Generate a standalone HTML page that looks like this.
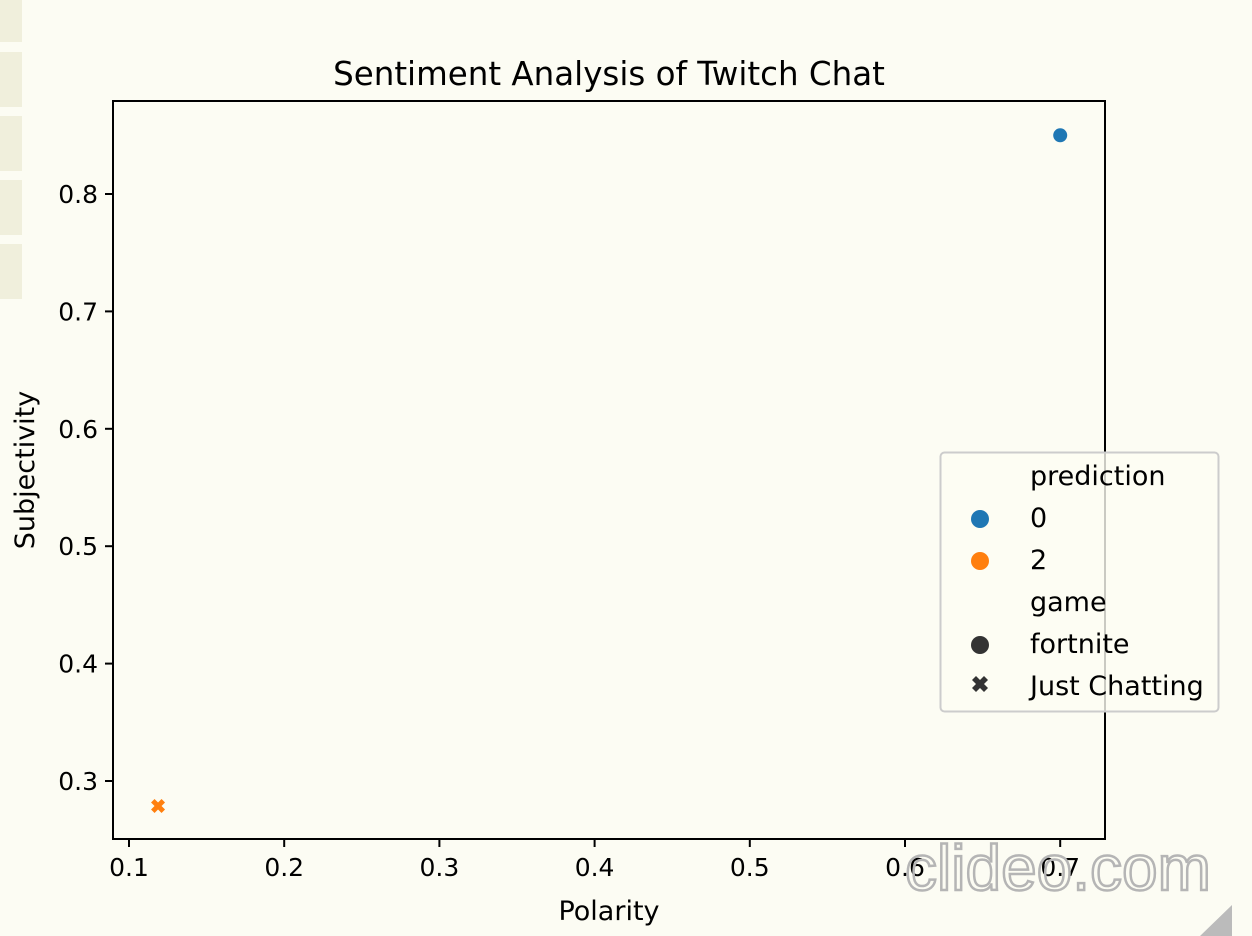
<!DOCTYPE html>
<html><head><meta charset="utf-8"><style>
body{margin:0;background:#fcfcf3;}
svg{display:block;font-family:"DejaVu Sans","Liberation Sans",sans-serif;}
</style></head><body>
<svg id="chart" width="1252" height="936" viewBox="0 0 1252 936">
<rect x="0" y="0" width="1252" height="936" fill="#fcfcf3"/>
<g fill="#f0efdc">
<rect x="0" y="0" width="22" height="42"/><rect x="0" y="52" width="22" height="55"/><rect x="0" y="116" width="22" height="55"/><rect x="0" y="180" width="22" height="55"/><rect x="0" y="244" width="22" height="55"/>
</g>
<text x="609" y="85" font-size="32.5" text-anchor="middle" fill="#000">Sentiment Analysis of Twitch Chat</text>
<g id="xticks"></g>
<g id="yticks"></g>
<text x="609" y="920" font-size="27" text-anchor="middle">Polarity</text>
<text transform="translate(34,470) rotate(-90)" font-size="27" text-anchor="middle">Subjectivity</text>
<g id="marks"></g>
<rect x="113" y="101" width="992" height="738" fill="none" stroke="#000" stroke-width="2"/>
<g>
<rect x="940.5" y="452.5" width="278" height="259" rx="4" fill="#fcfcf3" fill-opacity="0.8" stroke="#ccc" stroke-width="2"/>
<g font-size="27" fill="#000">
<text x="1030" y="485">prediction</text>
<circle cx="980" cy="519" r="9" fill="#1f77b4"/>
<text x="1030" y="527">0</text>
<circle cx="980" cy="561" r="9" fill="#ff7f0e"/>
<text x="1030" y="569">2</text>
<text x="1030" y="611">game</text>
<circle cx="980" cy="645" r="9" fill="#333"/>
<text x="1030" y="653">fortnite</text>
<path d="M972,680 L976,676 L980,680 L984,676 L988,680 L984,684 L988,688 L984,692 L980,688 L976,692 L972,688 L976,684 Z" fill="#333"/>
<text x="1030" y="695">Just Chatting</text>
</g></g>
<text x="1058" y="890" font-size="64" font-family="'Liberation Sans',sans-serif" text-anchor="middle" fill="none" stroke="#b5b5b5" stroke-width="2.5">clideo.com</text>
<path d="M1232,905 L1232,936 L1200,936 Z" fill="#bbb"/>
</svg>
<script>
const xTicks=[0.1,0.2,0.3,0.4,0.5,0.6,0.7];
const yTicks=[0.3,0.4,0.5,0.6,0.7,0.8];
const polarity=[0.7,0.1187];
const subjectivity=[0.85,0.2787];
const prediction=["0","2"];
const game=["fortnite","Just Chatting"];
const colors={"0":"#1f77b4","2":"#ff7f0e"};
const NS="http://www.w3.org/2000/svg";
function xs(v){return 129+(v-0.1)*1552;}
function ys(v){return 781-(v-0.3)*1174;}
function mk(tag,attrs,parent){const e=document.createElementNS(NS,tag);for(const k in attrs)e.setAttribute(k,attrs[k]);parent.appendChild(e);return e;}
const gx=document.getElementById('xticks'),gy=document.getElementById('yticks'),gm=document.getElementById('marks');
xTicks.forEach(v=>{
 const l=mk('line',{x1:xs(v),x2:xs(v),y1:839,y2:847,stroke:'#000','stroke-width':2},gx);
 
 
 const t=mk('text',{x:xs(v),y:876,'font-size':25,'text-anchor':'middle'},gx);t.textContent=v.toFixed(1);
 
 
});
yTicks.forEach(v=>{
 const l=mk('line',{x1:105,x2:113,y1:ys(v),y2:ys(v),stroke:'#000','stroke-width':2},gy);
 
 
 const t=mk('text',{x:98,y:ys(v)+9,'font-size':25,'text-anchor':'end'},gy);t.textContent=v.toFixed(1);
 
 
});
polarity.forEach((p,i)=>{
 const cx=xs(p),cy=ys(subjectivity[i]),c=colors[prediction[i]];
 let e;
 if(game[i]==="fortnite"){e=mk('circle',{cx:cx,cy:cy,r:7,fill:c},gm);}
 else{const s=3.5;e=mk('path',{d:`M${cx-2*s},${cy-s} L${cx-s},${cy-2*s} L${cx},${cy-s} L${cx+s},${cy-2*s} L${cx+2*s},${cy-s} L${cx+s},${cy} L${cx+2*s},${cy+s} L${cx+s},${cy+2*s} L${cx},${cy+s} L${cx-s},${cy+2*s} L${cx-2*s},${cy+s} L${cx-s},${cy} Z`,fill:c},gm);}
 
 
});
</script>
</body></html>
